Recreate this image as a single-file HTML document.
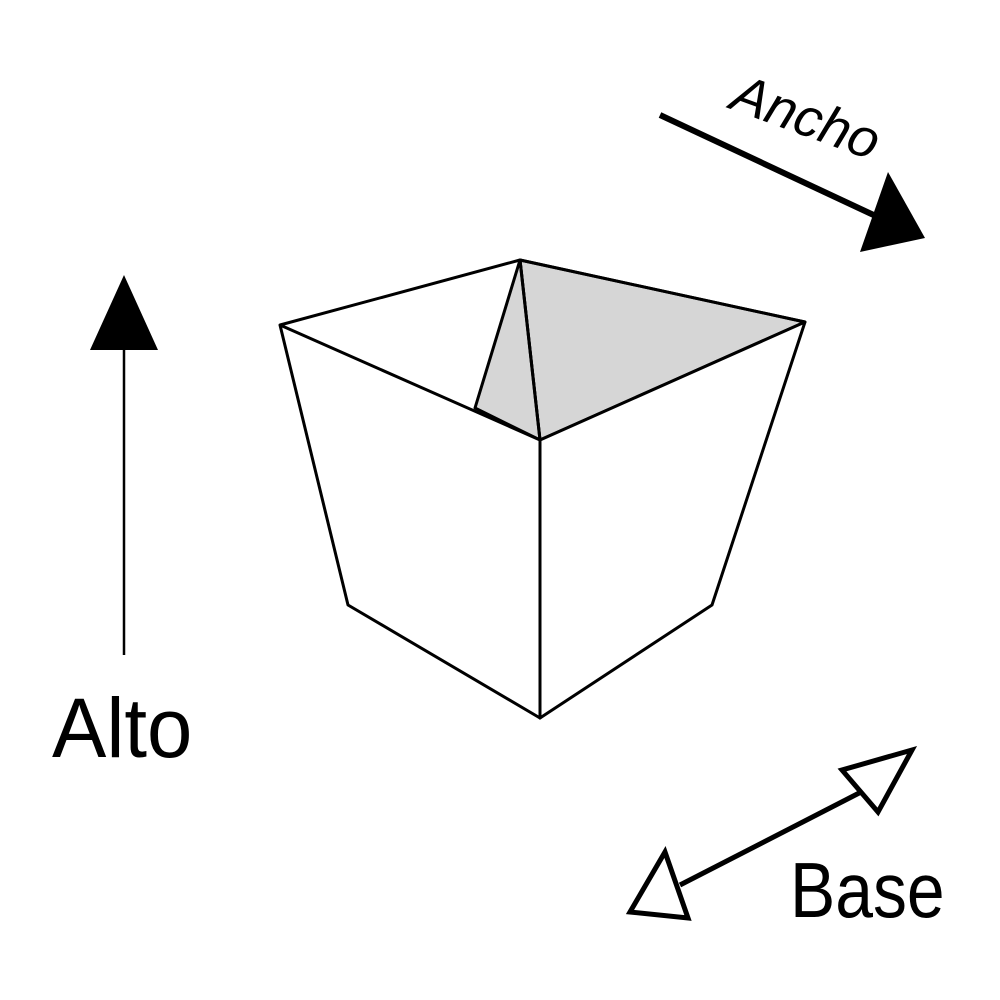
<!DOCTYPE html>
<html><head><style>html,body{margin:0;padding:0;background:#fff}svg{display:block}</style></head>
<body>
<svg width="1000" height="1000" viewBox="0 0 1000 1000" xmlns="http://www.w3.org/2000/svg">
<rect width="1000" height="1000" fill="#fff"/>
<g stroke="#000" stroke-width="3" stroke-linejoin="round" fill="none">
<polygon points="520,260 805,322 540,440" fill="#d6d6d6"/>
<polygon points="520,260 475,408 540,440" fill="#d6d6d6"/>
<polygon points="280,325 540,440 540,718 348,605" fill="#fff"/>
<polygon points="540,440 805,322 712,605 540,718" fill="#fff"/>
<polyline points="280,325 520,260 805,322"/>
<line x1="520" y1="260" x2="540" y2="440"/>
<line x1="520" y1="260" x2="475" y2="408" stroke-width="1.5"/>
</g>
<line x1="124" y1="345" x2="124" y2="655" stroke="#000" stroke-width="2.5"/>
<polygon points="124,275 90,350 158,350" fill="#000"/>
<text x="52" y="757" font-family="Liberation Sans Narrow, Liberation Sans, sans-serif" font-size="84" transform="translate(52,757) scale(0.97,1) translate(-52,-757)">Alto</text>
<line x1="660" y1="115" x2="880" y2="218" stroke="#000" stroke-width="6"/>
<polygon points="925,238 888,172 860,252" fill="#000"/>
<text x="0" y="0" font-family="Liberation Sans, sans-serif" font-style="italic" font-size="54" transform="translate(728,108) rotate(20)">Ancho</text>
<line x1="680" y1="885" x2="865" y2="790" stroke="#000" stroke-width="5"/>
<polygon points="912,750 842,770 878,812" fill="#fff" stroke="#000" stroke-width="5" stroke-linejoin="miter"/>
<polygon points="630,912 665,852 688,918" fill="#fff" stroke="#000" stroke-width="5" stroke-linejoin="miter"/>
<text x="790" y="917" font-family="Liberation Sans Narrow, Liberation Sans, sans-serif" font-size="78" transform="translate(790,917) scale(0.87,1) translate(-790,-917)">Base</text>
</svg>
</body></html>
